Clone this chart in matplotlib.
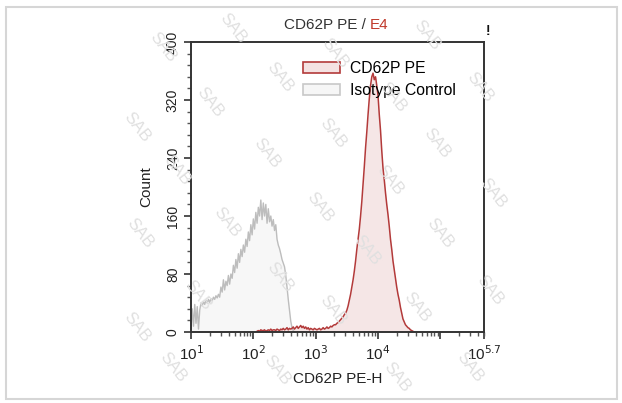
import numpy as np
import matplotlib
matplotlib.use("Agg")
import matplotlib.pyplot as plt
from matplotlib.patches import Patch, Rectangle
from matplotlib.ticker import FixedLocator, MultipleLocator, LogLocator, NullFormatter

plt.rcParams["font.family"] = ["Liberation Sans", "DejaVu Sans"]

# ==========================
# data
# ==========================

# isotype control histogram, channels every 0.02 decade starting at 10^1.00
iso_start = 1.00
iso_counts = [
    5, 32, 8, 38, 12, 35, 4, 30,
    40, 36, 42, 38, 44, 40, 45, 41, 46, 43, 48, 45, 50, 47, 52, 48,
    62, 55, 72, 58, 70, 64, 78, 66, 80,
    74, 92, 82, 100, 88, 108, 96, 114, 104, 120, 110,
    128, 118, 138, 126, 148, 134, 156, 142, 165, 150, 172, 160,
    182, 155, 178, 160, 176, 150, 170,
    152, 160, 146, 155, 140, 148,
    128, 120, 115, 108, 100, 95, 90,
    78, 62, 45, 30, 15, 6, 2, 0,
]

# CD62P PE histogram, channels every 0.02 decade starting at 10^2.06
pe_start = 2.06
pe_counts = [
    1, 2, 1, 3, 2, 2, 3, 1, 2, 3, 2, 4, 2, 3, 3, 2, 4, 3, 2, 4, 3, 5, 3, 4, 6, 3, 5, 4,
    5, 7, 4, 6, 8, 5, 7, 9, 6, 8, 5, 7, 4, 6, 3, 5, 4, 3, 5, 4,
    3, 4, 5, 3, 4, 6, 4, 5, 7, 5, 6, 8, 7, 9, 10,
    10, 12, 13, 15, 17, 19, 21, 24, 26, 30,
    36, 44, 52, 62, 72, 84, 98, 114, 128, 142, 160, 180, 204, 228, 254, 276,
    300, 322, 340, 352, 357, 348, 352, 340, 326, 300, 278, 250, 226, 210,
    192, 176, 162, 146, 128, 114, 98, 86, 74, 62, 52, 44, 34, 26, 18, 14,
    10, 8, 6, 5, 3, 2, 1, 0,
]

channel_step = 0.02

x_major = [1, 2, 3, 4, 5, 5.7]
x_labels = ["10$^{1}$", "10$^{2}$", "10$^{3}$", "10$^{4}$", "", "10$^{5.7}$"]
y_ticks = [0, 80, 160, 240, 320, 400]

iso_x = 10 ** (iso_start + channel_step * np.arange(len(iso_counts)))
pe_x = 10 ** (pe_start + channel_step * np.arange(len(pe_counts)))

# watermark spots (pixels from top-left)
wm_spots = [
    (163, 47), (233, 28), (335, 53), (427, 35),
    (210, 102), (280, 77), (393, 97), (480, 87),
    (137, 127), (267, 153), (333, 133), (437, 143),
    (177, 170), (390, 180), (493, 193),
    (140, 233), (227, 222), (320, 207), (440, 233),
    (198, 295), (280, 277), (367, 250), (333, 310), (417, 307), (490, 290),
    (137, 327), (173, 367), (277, 370), (397, 377), (470, 367),
]

# ==========================
# figure
# ==========================

W, H = 622, 403
fig = plt.figure(figsize=(W / 100, H / 100), dpi=100)

# outer frame
fig.patches.append(Rectangle((6 / W, 1 - 399 / H), 611 / W, 392 / H,
                             transform=fig.transFigure, fill=False,
                             edgecolor="#d6d6d6", linewidth=1.5))

for px, py in wm_spots:
    fig.text(px / W, 1 - py / H, "SAB", fontsize=12, color="#e0e0e0",
             rotation=-52, ha="center", va="center", zorder=0)

ax = fig.add_axes([191 / W, 1 - 332 / H, 293 / W, 290 / H])
ax.patch.set_alpha(0)
ax.set_xscale("log")

ax.fill_between(iso_x, iso_counts, color="#f6f6f6", alpha=0.85, linewidth=0)
ax.plot(iso_x, iso_counts, color="#bdbdbd", linewidth=1.0)
ax.fill_between(pe_x, pe_counts, color="#f4e2e2", alpha=0.85, linewidth=0)
ax.plot(pe_x, pe_counts, color="#b33a3a", linewidth=1.1)

ax.set_xlim(10 ** 1, 10 ** 5.7)
ax.set_ylim(0, 400)

ax.xaxis.set_major_locator(FixedLocator([10 ** v for v in x_major]))
ax.set_xticklabels(x_labels)
ax.xaxis.set_minor_locator(LogLocator(base=10, subs=np.arange(2, 10)))
ax.xaxis.set_minor_formatter(NullFormatter())

ax.set_yticks(y_ticks)
ax.yaxis.set_minor_locator(MultipleLocator(16))
for lab in ax.get_yticklabels():
    lab.set_rotation(90)
    lab.set_va("center")

ax.tick_params(axis="both", which="major", length=5, width=1.2, color="#333333",
               labelsize=10, labelcolor="#222222")
ax.tick_params(axis="both", which="minor", length=3, width=1.0, color="#555555")
ax.tick_params(axis="x", pad=4, labelsize=11)
ax.tick_params(axis="y", pad=3)

for s in ax.spines.values():
    s.set_linewidth(1.4)
    s.set_color("#333333")

ax.set_xlabel("CD62P PE-H", fontsize=11, color="#222222", labelpad=6)
ax.set_ylabel("Count", fontsize=11, color="#222222", labelpad=9)

# title with coloured gate name
fig.text(366 / W, 1 - 25 / H, "CD62P PE /", fontsize=11, color="#333333",
         ha="right", va="center")
fig.text(370 / W, 1 - 25 / H, "E4", fontsize=11, color="#c0392b",
         ha="left", va="center")
fig.text(488 / W, 1 - 31 / H, "!", fontsize=10, fontweight="bold", color="#111111",
         ha="center", va="center")

handles = [
    Patch(facecolor="#f4e2e2", edgecolor="#b33a3a", linewidth=1.2, label="CD62P PE"),
    Patch(facecolor="#f6f6f6", edgecolor="#c8c8c8", linewidth=1.2, label="Isotype Control"),
]
ax.legend(handles=handles, loc="upper left", bbox_to_anchor=(0.36, 0.955),
          frameon=False, fontsize=11.3, handlelength=2.4, handleheight=0.7,
          handletextpad=0.6, labelspacing=0.45, borderaxespad=0)

plt.savefig("out.png", dpi=100)
